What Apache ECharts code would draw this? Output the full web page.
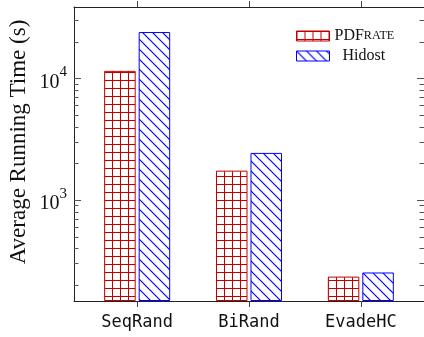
<!DOCTYPE html>
<html>
<head>
<meta charset="utf-8">
<script src="https://cdn.jsdelivr.net/npm/echarts@6/dist/echarts.min.js"></script>
<style>
  html, body { margin: 0; padding: 0; background: #fff; }
  #chart { width: 424px; height: 337px; }
</style>
</head>
<body>
<div id="chart"></div>
<script>
// Average running time (seconds) per attack, for each classifier
const categories = ['SeqRand', 'BiRand', 'EvadeHC'];
const pdfrateTimes = [11600, 1750, 235];
const hidostTimes = [24200, 2450, 254];

// Log-scale tick values
const majorTicks = [1000, 10000];
const minorTicks = [200, 300, 400, 500, 600, 700, 800, 900,
                    2000, 3000, 4000, 5000, 6000, 7000, 8000, 9000,
                    20000, 30000];
const yMin = 148;
const yMax = 38900;

const RED = '#c00000';
const BLUE = '#0000ff';
const FRAME = '#222';

// Hatch fills: red grid and blue "\" lines
function gridTile() {
  const c = document.createElement('canvas');
  c.width = 8; c.height = 8;
  const g = c.getContext('2d');
  g.strokeStyle = RED;
  g.lineWidth = 1;
  g.beginPath();
  g.moveTo(0.5, 0); g.lineTo(0.5, 8);
  g.moveTo(0, 0.5); g.lineTo(8, 0.5);
  g.stroke();
  return c;
}
function diagTile() {
  const c = document.createElement('canvas');
  c.width = 10; c.height = 10;
  const g = c.getContext('2d');
  g.strokeStyle = BLUE;
  g.lineWidth = 1.2;
  g.beginPath();
  g.moveTo(-2, -2); g.lineTo(12, 12);
  g.moveTo(-12, -2); g.lineTo(2, 12);
  g.moveTo(8, -2); g.lineTo(22, 12);
  g.stroke();
  return c;
}
const redFill = { image: gridTile(), repeat: 'repeat' };
const blueFill = { image: diagTile(), repeat: 'repeat' };

const chart = echarts.init(document.getElementById('chart'), null, { renderer: 'canvas' });

function xAxisDef(position, showLabels) {
  return {
    type: 'value',
    position: position,
    min: -0.565,
    max: 2.565,
    axisLine: { show: true, onZero: false, lineStyle: { color: FRAME, width: 1 } },
    axisTick: { show: true, inside: false, length: 6, customValues: [0, 1, 2],
                lineStyle: { color: '#444', width: 1 } },
    axisLabel: {
      show: showLabels,
      customValues: [0, 1, 2],
      formatter: v => categories[Math.round(v)],
      fontFamily: '"DejaVu Sans Mono"',
      fontSize: 17,
      color: '#111',
      margin: 13
    },
    splitLine: { show: false }
  };
}

function yAxisDef(position, ticks, tickLen, showLine, showLabels) {
  return {
    type: 'log',
    logBase: 10,
    position: position,
    min: yMin,
    max: yMax,
    startValue: yMin,
    axisLine: { show: showLine, onZero: false, lineStyle: { color: FRAME, width: 1 } },
    axisTick: { show: true, inside: true, length: tickLen, customValues: ticks,
                lineStyle: { color: '#555', width: 1 } },
    axisLabel: {
      show: showLabels,
      customValues: ticks,
      margin: 7,
      formatter: v => '{b|10}{s|' + Math.round(Math.log10(v)) + '}',
      rich: {
        b: { fontFamily: '"Liberation Serif"', fontSize: 20, color: '#111',
             lineHeight: 28, verticalAlign: 'bottom' },
        s: { fontFamily: '"Liberation Serif"', fontSize: 15, color: '#111',
             lineHeight: 23, verticalAlign: 'top' }
      }
    },
    splitLine: { show: false },
    minorTick: { show: false }
  };
}

const option = {
  animation: false,
  backgroundColor: '#fff',
  grid: { left: 74, right: -3, top: 7, bottom: 36, containLabel: false },
  xAxis: [
    xAxisDef('bottom', true),
    xAxisDef('top', false)
  ],
  yAxis: [
    yAxisDef('left', majorTicks, 7, true, true),
    yAxisDef('left', minorTicks, 4.5, false, false),
    yAxisDef('right', majorTicks, 7, true, false),
    yAxisDef('right', minorTicks, 4.5, false, false)
  ],
  legend: {
    orient: 'vertical',
    left: 296,
    top: 28,
    padding: 0,
    itemWidth: 33,
    itemHeight: 10,
    itemGap: 4,
    icon: 'rect',
    data: [
      { name: 'PDFrate', itemStyle: { color: redFill, borderColor: RED, borderWidth: 1 } },
      { name: 'Hidost', itemStyle: { color: blueFill, borderColor: BLUE, borderWidth: 1 } }
    ],
    formatter: name => name === 'PDFrate' ? '{c|PDF}{sc|RATE}' : '{n|Hidost}',
    textStyle: {
      rich: {
        c: { fontFamily: '"Liberation Serif"', fontSize: 16, color: '#111', lineHeight: 20 },
        sc: { fontFamily: '"Liberation Serif"', fontSize: 12.2, color: '#111', lineHeight: 20 },
        n: { fontFamily: '"Liberation Serif"', fontSize: 16, color: '#111', lineHeight: 20,
             padding: [0, 0, 0, 8] }
      }
    }
  },
  graphic: [{
    type: 'text',
    x: 19,
    y: 142,
    rotation: Math.PI / 2,
    style: {
      text: 'Average Running Time (s)',
      font: '23px "Liberation Serif"',
      fill: '#111',
      align: 'center',
      verticalAlign: 'middle'
    }
  }],
  series: [
    {
      name: 'PDFrate',
      type: 'bar',
      xAxisIndex: 0,
      yAxisIndex: 0,
      data: categories.map((c, i) => [i, pdfrateTimes[i]]),
      barWidth: 31.5,
      barGap: '9.5%',
      clip: true,
      itemStyle: { color: redFill, borderColor: RED, borderWidth: 1 }
    },
    {
      name: 'Hidost',
      type: 'bar',
      xAxisIndex: 0,
      yAxisIndex: 0,
      data: categories.map((c, i) => [i, hidostTimes[i]]),
      barWidth: 31.5,
      barGap: '9.5%',
      clip: true,
      itemStyle: { color: blueFill, borderColor: BLUE, borderWidth: 1 }
    }
  ]
};

chart.setOption(option);
</script>
</body>
</html>
